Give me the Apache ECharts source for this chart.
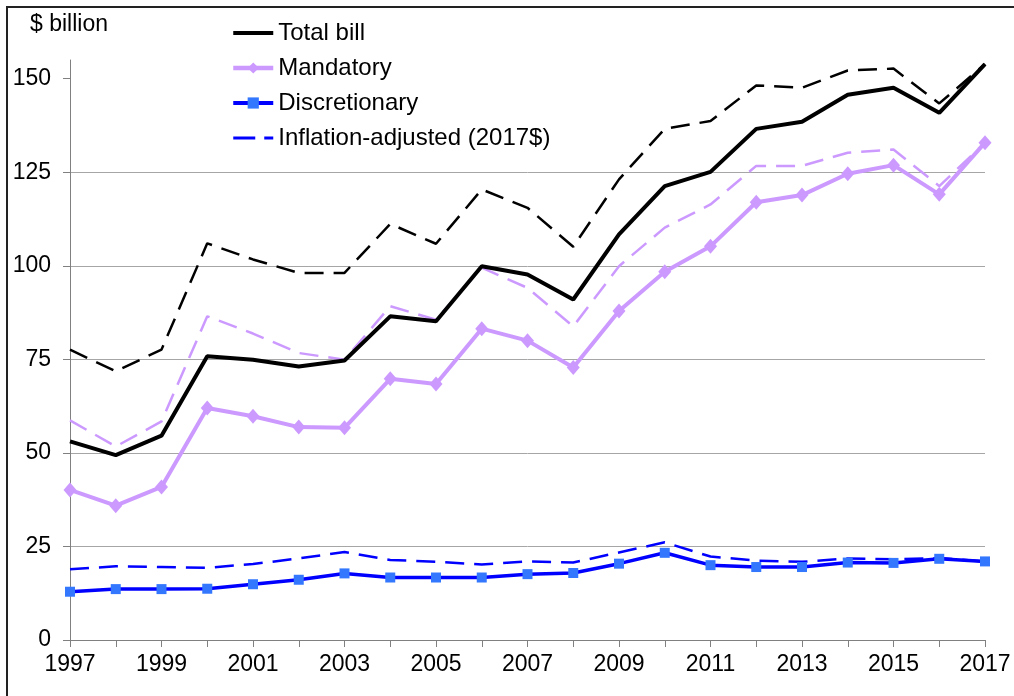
<!DOCTYPE html>
<html>
<head>
<meta charset="utf-8">
<script src="https://cdn.jsdelivr.net/npm/echarts@6/dist/echarts.min.js"></script>
<style>
html,body{margin:0;padding:0;background:#fff;}
#chart{width:1014px;height:696px;}
</style>
</head>
<body>
<div id="chart"></div>
<script>
const years = ['1997','1998','1999','2000','2001','2002','2003','2004','2005','2006','2007','2008','2009','2010','2011','2012','2013','2014','2015','2016','2017'];
const yTicks = [0, 25, 50, 75, 100, 125, 150];
const total = [53.1, 49.4, 54.6, 75.8, 74.9, 73.1, 74.7, 86.5, 85.2, 99.9, 97.7, 91.0, 108.4, 121.3, 125.1, 136.6, 138.5, 145.7, 147.6, 140.9, 153.9];
const totalReal = [77.6, 71.8, 77.6, 106.0, 101.7, 98.1, 98.1, 111.2, 105.9, 120.4, 115.5, 105.1, 123.1, 136.6, 138.7, 148.2, 147.6, 152.2, 152.7, 143.4, 153.9];
const mandatory = [40.1, 35.9, 40.9, 62.0, 59.8, 56.9, 56.7, 69.8, 68.4, 83.2, 80.0, 72.8, 87.9, 98.4, 105.2, 117.0, 118.9, 124.6, 126.9, 119.1, 132.9];
const mandatoryReal = [58.7, 51.7, 58.4, 86.5, 81.9, 76.7, 74.9, 89.2, 85.6, 99.5, 94.1, 83.8, 99.9, 110.2, 116.4, 126.7, 126.7, 130.2, 131.1, 121.3, 132.9];
const discretionary = [12.9, 13.6, 13.6, 13.7, 14.9, 16.1, 17.8, 16.7, 16.7, 16.7, 17.6, 17.9, 20.4, 23.3, 20.0, 19.5, 19.5, 20.7, 20.6, 21.7, 21.0];
const discretionaryReal = [18.9, 19.7, 19.5, 19.3, 20.3, 21.8, 23.5, 21.4, 20.9, 20.2, 21.0, 20.7, 23.4, 26.1, 22.3, 21.2, 20.9, 21.8, 21.6, 21.9, 21.0];

const FONT = '"Liberation Sans", Arial, sans-serif';
const chart = echarts.init(document.getElementById('chart'), null, {renderer: 'canvas'});
chart.setOption({
  animation: false,
  backgroundColor: '#fff',
  textStyle: {fontFamily: FONT},
  title: {
    text: '$ billion', left: 30, top: 13, padding: 0,
    textStyle: {fontFamily: FONT, fontSize: 23, fontWeight: 'normal', color: '#000'}
  },
  graphic: [{
    type: 'rect', silent: true, z: -1,
    shape: {x: 7, y: 7, width: 2000, height: 2000},
    style: {fill: null, stroke: '#222', lineWidth: 2}
  }],
  legend: {
    data: [
      {name: 'Total bill', icon: 'path://M0,0h40v4h-40z', itemStyle: {color: '#000'}},
      {name: 'Mandatory', lineStyle: {width: 4.5}},
      {name: 'Discretionary', lineStyle: {width: 4}},
      {name: 'Inflation-adjusted (2017$)', icon: 'path://M0,0h22v3h-22z M31,0h9v3h-9z', itemStyle: {color: '#0000ff'}}
    ],
    orient: 'vertical', left: 191, top: 11,
    padding: [10, 29, 8, 40],
    backgroundColor: '#fff',
    itemWidth: 40, itemHeight: 14, itemGap: 11,
    symbolKeepAspect: true,
    textStyle: {fontFamily: FONT, fontSize: 24, color: '#000', lineHeight: 24},
    selectedMode: false
  },
  grid: {left: 70, right: 29, top: 60, bottom: 56, containLabel: false},
  xAxis: {
    type: 'category', data: years, boundaryGap: false,
    axisLine: {lineStyle: {color: '#808080', width: 1}},
    axisTick: {show: true, interval: 0, length: 7, lineStyle: {color: '#808080'}},
    axisLabel: {interval: 1, fontFamily: FONT, fontSize: 23, color: '#000', margin: 13}
  },
  yAxis: {
    type: 'value', min: 0, max: 155, interval: 25,
    axisLine: {show: true, lineStyle: {color: '#808080', width: 1}},
    axisTick: {show: true, length: 7, lineStyle: {color: '#808080'}, customValues: yTicks},
    axisLabel: {fontFamily: FONT, fontSize: 23, color: '#000', margin: 19, customValues: yTicks},
    splitLine: {show: true, showMaxLine: false, lineStyle: {color: '#a6a6a6', width: 1}}
  },
  series: [
    {name: 'Total bill (2017$)', type: 'line', data: totalReal, symbol: 'none', clip: false,
     lineStyle: {color: '#000', width: 2.5, type: [19, 10]}, itemStyle: {color: '#000'}, z: 2},
    {name: 'Mandatory (2017$)', type: 'line', data: mandatoryReal, symbol: 'none', clip: false,
     lineStyle: {color: '#cc99ff', width: 2.5, type: [19, 10]}, itemStyle: {color: '#cc99ff'}, z: 2},
    {name: 'Inflation-adjusted (2017$)', type: 'line', data: discretionaryReal, symbol: 'none', clip: false,
     lineStyle: {color: '#0000ff', width: 2.5, type: [19, 10]}, itemStyle: {color: '#0000ff'}, z: 2},
    {name: 'Total bill', type: 'line', data: total, symbol: 'none', clip: false,
     lineStyle: {color: '#000', width: 4}, itemStyle: {color: '#000'}, z: 3},
    {name: 'Mandatory', type: 'line', data: mandatory, symbol: 'diamond', symbolSize: [13, 15], clip: false,
     lineStyle: {color: '#cc99ff', width: 4}, itemStyle: {color: '#cc99ff'}, z: 3},
    {name: 'Discretionary', type: 'line', data: discretionary, symbol: 'rect', symbolSize: 10, clip: false,
     lineStyle: {color: '#0000ff', width: 3.5}, itemStyle: {color: '#3377ff'}, z: 3}
  ]
});
</script>
</body>
</html>
